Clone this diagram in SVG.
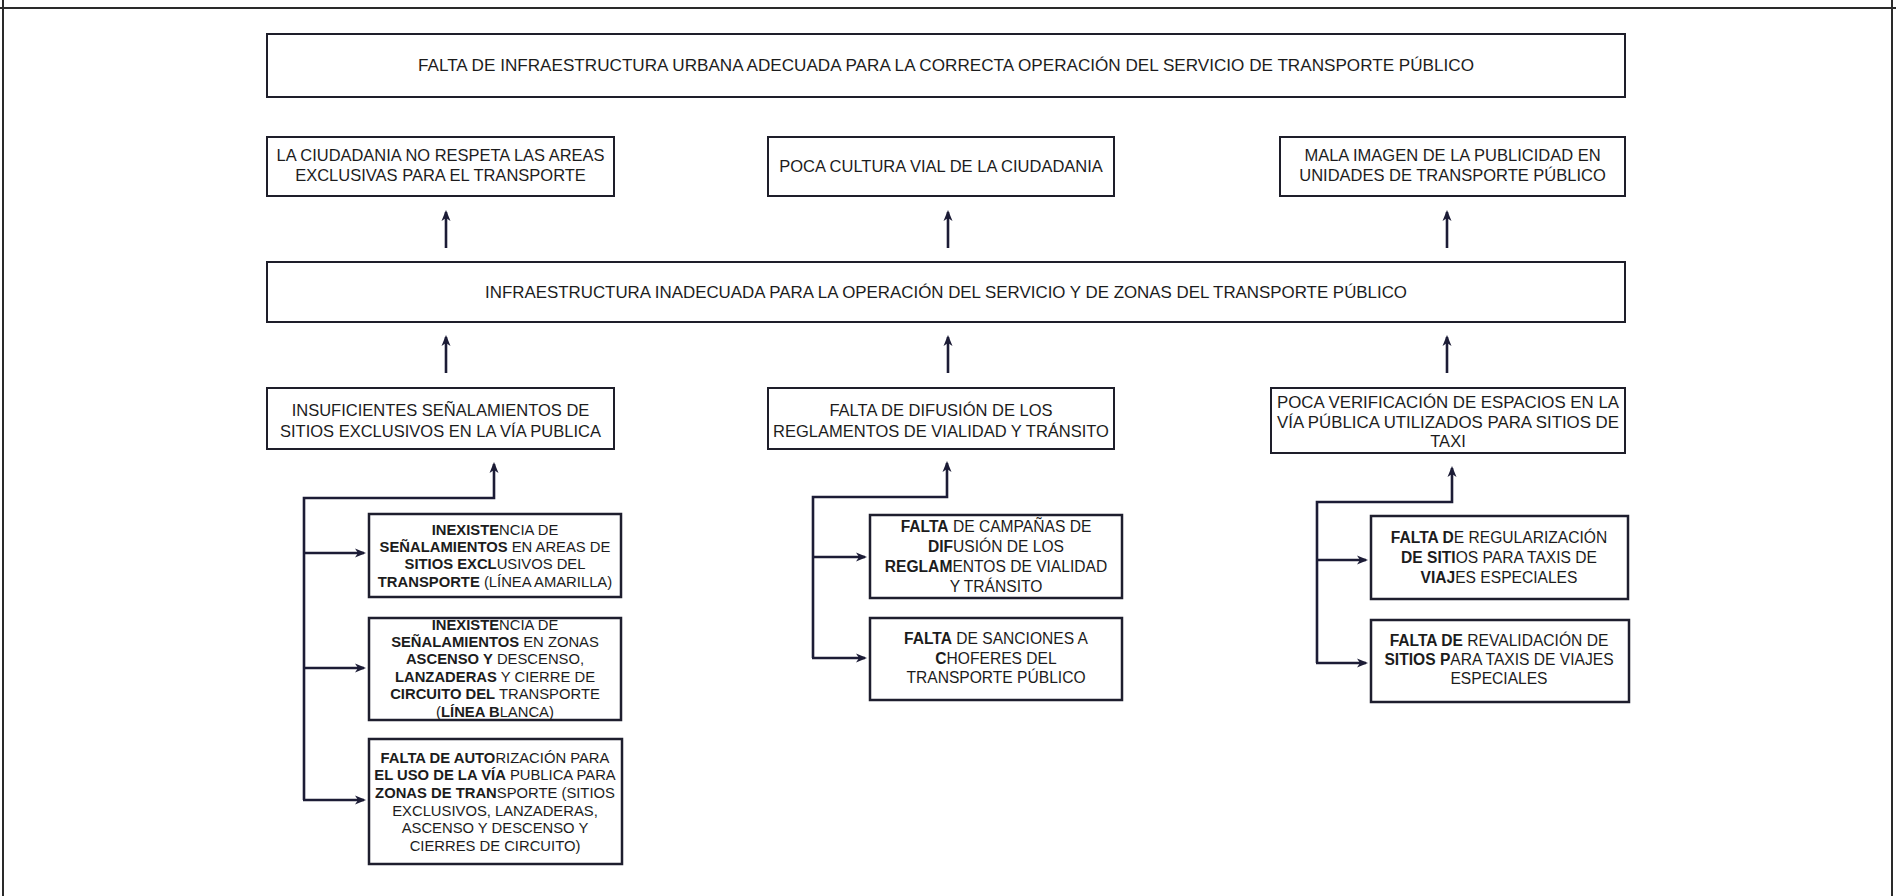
<svg xmlns="http://www.w3.org/2000/svg" width="1896" height="896" viewBox="0 0 1896 896">
<style>
.bx{fill:none;stroke:#1e1e2a;stroke-width:2}
.lb{fill:none;stroke:#1e1e2e;stroke-width:2.5}
.t{font-family:"Liberation Sans",Arial,sans-serif;font-size:16.5px;fill:#1c1c1c;text-anchor:middle}
.s{font-family:"Liberation Sans",Arial,sans-serif;font-size:14.8px;fill:#1c1c1c;text-anchor:middle}
.m{font-family:"Liberation Sans",Arial,sans-serif;font-size:15.6px;fill:#1c1c1c;text-anchor:middle}
.b{font-weight:bold}
.c{fill:none;stroke:#1c1c36;stroke-width:2.6}
.fr{fill:none;stroke:#2a2a2a;stroke-width:2}
</style>
<defs>
<marker id="ah" markerWidth="11" markerHeight="10" refX="9" refY="5" orient="auto" markerUnits="userSpaceOnUse">
<path d="M0,0.5 L11,5 L0,9.5 L3,5 z" fill="#1c1c36"/>
</marker>
</defs>
<rect width="1896" height="896" fill="#ffffff"/>
<g id="frame">
<line class="fr" x1="0" y1="8" x2="1896" y2="8"/>
<line class="fr" x1="3" y1="0" x2="3" y2="896"/>
<line class="fr" x1="1892" y1="0" x2="1892" y2="896"/>
</g>
<g id="n-top">
<rect class="bx" x="267" y="34" width="1358" height="63"/>
<text class="t" x="946" y="71" textLength="1056" lengthAdjust="spacingAndGlyphs">FALTA DE INFRAESTRUCTURA URBANA ADECUADA PARA LA CORRECTA OPERACIÓN DEL SERVICIO DE TRANSPORTE PÚBLICO</text>
</g>
<g id="n-e1">
<rect class="bx" x="267" y="137" width="347" height="59"/>
<text class="t" x="440.5" y="161" textLength="328" lengthAdjust="spacingAndGlyphs">LA CIUDADANIA NO RESPETA LAS AREAS</text>
<text class="t" x="440.5" y="181">EXCLUSIVAS PARA EL TRANSPORTE</text>
</g>
<g id="n-e2">
<rect class="bx" x="768" y="137" width="346" height="59"/>
<text class="t" x="941" y="172">POCA CULTURA VIAL DE LA CIUDADANIA</text>
</g>
<g id="n-e3">
<rect class="bx" x="1280" y="137" width="345" height="59"/>
<text class="t" x="1452.5" y="161">MALA IMAGEN DE LA PUBLICIDAD EN</text>
<text class="t" x="1452.5" y="181">UNIDADES DE TRANSPORTE PÚBLICO</text>
</g>
<g id="n-mid">
<rect class="bx" x="267" y="262" width="1358" height="60"/>
<text class="t" x="946" y="298" textLength="922" lengthAdjust="spacingAndGlyphs">INFRAESTRUCTURA INADECUADA PARA LA OPERACIÓN DEL SERVICIO Y DE ZONAS DEL TRANSPORTE PÚBLICO</text>
</g>
<g id="n-c1">
<rect class="bx" x="267" y="388" width="347" height="61"/>
<text class="t" x="440.5" y="416">INSUFICIENTES SEÑALAMIENTOS DE</text>
<text class="t" x="440.5" y="437">SITIOS EXCLUSIVOS EN LA VÍA PUBLICA</text>
</g>
<g id="n-c2">
<rect class="bx" x="768" y="388" width="346" height="61"/>
<text class="t" x="941" y="416">FALTA DE DIFUSIÓN DE LOS</text>
<text class="t" x="941" y="437">REGLAMENTOS DE VIALIDAD Y TRÁNSITO</text>
</g>
<g id="n-c3">
<rect class="bx" x="1271" y="388" width="354" height="65"/>
<text class="t" x="1448" y="408" textLength="342" lengthAdjust="spacingAndGlyphs">POCA VERIFICACIÓN DE ESPACIOS EN LA</text>
<text class="t" x="1448" y="428" textLength="342" lengthAdjust="spacingAndGlyphs">VÍA PÚBLICA UTILIZADOS PARA SITIOS DE</text>
<text class="t" x="1448" y="447">TAXI</text>
</g>
<g id="n-l1">
<rect class="lb" x="369" y="514" width="252" height="83"/>
<text class="s" x="495" y="535"><tspan class="b">INEXISTE</tspan>NCIA DE</text>
<text class="s" x="495" y="552"><tspan class="b">SEÑALAMIENTOS</tspan> EN AREAS DE</text>
<text class="s" x="495" y="569"><tspan class="b">SITIOS EXCL</tspan>USIVOS DEL</text>
<text class="s" x="495" y="587"><tspan class="b">TRANSPORTE</tspan> (LÍNEA AMARILLA)</text>
</g>
<g id="n-l2">
<rect class="lb" x="369" y="618" width="252" height="102"/>
<text class="s" x="495" y="630"><tspan class="b">INEXISTE</tspan>NCIA DE</text>
<text class="s" x="495" y="647"><tspan class="b">SEÑALAMIENTOS</tspan> EN ZONAS</text>
<text class="s" x="495" y="664"><tspan class="b">ASCENSO Y</tspan> DESCENSO,</text>
<text class="s" x="495" y="682"><tspan class="b">LANZADERAS</tspan> Y CIERRE DE</text>
<text class="s" x="495" y="699"><tspan class="b">CIRCUITO DEL</tspan> TRANSPORTE</text>
<text class="s" x="495" y="717">(<tspan class="b">LÍNEA B</tspan>LANCA)</text>
</g>
<g id="n-l3">
<rect class="lb" x="369" y="739" width="253" height="125"/>
<text class="s" x="495" y="763"><tspan class="b">FALTA DE AUTO</tspan>RIZACIÓN  PARA</text>
<text class="s" x="495" y="780"><tspan class="b">EL USO DE LA VÍA</tspan> PUBLICA PARA</text>
<text class="s" x="495" y="798"><tspan class="b">ZONAS DE  TRAN</tspan>SPORTE (SITIOS</text>
<text class="s" x="495" y="816">EXCLUSIVOS, LANZADERAS,</text>
<text class="s" x="495" y="833">ASCENSO Y DESCENSO Y</text>
<text class="s" x="495" y="851">CIERRES DE CIRCUITO)</text>
</g>
<g id="n-m1">
<rect class="lb" x="870" y="515" width="252" height="83"/>
<text class="m" x="996" y="532"><tspan class="b">FALTA</tspan> DE CAMPAÑAS DE</text>
<text class="m" x="996" y="552"><tspan class="b">DIF</tspan>USIÓN DE LOS</text>
<text class="m" x="996" y="572"><tspan class="b">REGLAM</tspan>ENTOS DE VIALIDAD</text>
<text class="m" x="996" y="592">Y TRÁNSITO</text>
</g>
<g id="n-m2">
<rect class="lb" x="870" y="618" width="252" height="82"/>
<text class="m" x="996" y="644"><tspan class="b">FALTA</tspan> DE SANCIONES A</text>
<text class="m" x="996" y="664"><tspan class="b">C</tspan>HOFERES DEL</text>
<text class="m" x="996" y="683">TRANSPORTE PÚBLICO</text>
</g>
<g id="n-r1">
<rect class="lb" x="1371" y="516" width="257" height="83"/>
<text class="m" x="1499" y="543"><tspan class="b">FALTA D</tspan>E REGULARIZACIÓN</text>
<text class="m" x="1499" y="563"><tspan class="b">DE SITI</tspan>OS PARA TAXIS DE</text>
<text class="m" x="1499" y="583"><tspan class="b">VIAJ</tspan>ES ESPECIALES</text>
</g>
<g id="n-r2">
<rect class="lb" x="1371" y="620" width="258" height="82"/>
<text class="m" x="1499" y="646"><tspan class="b">FALTA DE</tspan> REVALIDACIÓN DE</text>
<text class="m" x="1499" y="665"><tspan class="b">SITIOS P</tspan>ARA TAXIS DE VIAJES</text>
<text class="m" x="1499" y="684">ESPECIALES</text>
</g>
<g id="connectors">
<line class="c" x1="446" y1="248" x2="446" y2="212" marker-end="url(#ah)"/>
<line class="c" x1="948" y1="248" x2="948" y2="212" marker-end="url(#ah)"/>
<line class="c" x1="1447" y1="248" x2="1447" y2="212" marker-end="url(#ah)"/>
<line class="c" x1="446" y1="373" x2="446" y2="337" marker-end="url(#ah)"/>
<line class="c" x1="948" y1="373" x2="948" y2="337" marker-end="url(#ah)"/>
<line class="c" x1="1447" y1="373" x2="1447" y2="337" marker-end="url(#ah)"/>
<polyline class="c" points="304,800 304,498 494,498 494,464" marker-end="url(#ah)"/>
<line class="c" x1="304" y1="553" x2="364" y2="553" marker-end="url(#ah)"/>
<line class="c" x1="304" y1="668" x2="364" y2="668" marker-end="url(#ah)"/>
<line class="c" x1="303" y1="800" x2="364" y2="800" marker-end="url(#ah)"/>
<polyline class="c" points="813,658 813,497 947,497 947,463" marker-end="url(#ah)"/>
<line class="c" x1="813" y1="557" x2="865" y2="557" marker-end="url(#ah)"/>
<line class="c" x1="812" y1="658" x2="865" y2="658" marker-end="url(#ah)"/>
<polyline class="c" points="1317,663 1317,502 1452,502 1452,468" marker-end="url(#ah)"/>
<line class="c" x1="1317" y1="560" x2="1366" y2="560" marker-end="url(#ah)"/>
<line class="c" x1="1316" y1="663" x2="1366" y2="663" marker-end="url(#ah)"/>
</g>
</svg>
